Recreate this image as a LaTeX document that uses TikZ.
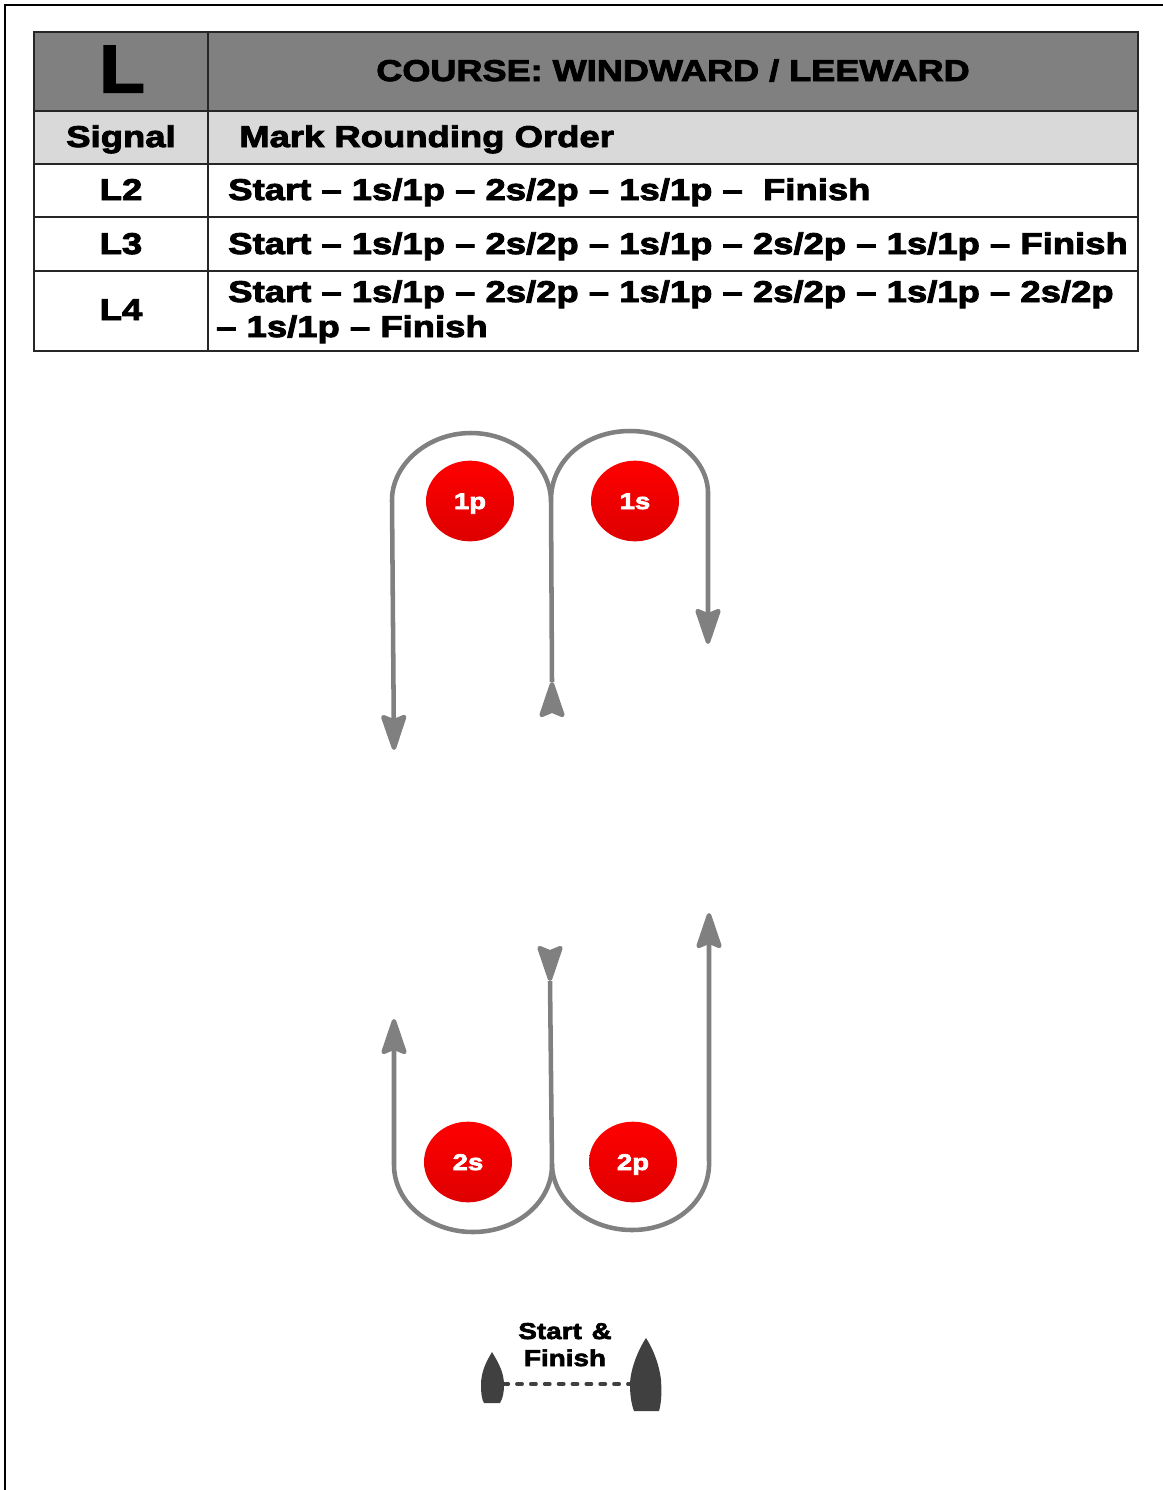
\documentclass[tikz,border=0pt]{standalone}
\usepackage{fontspec}
\setmainfont{Liberation Sans}[BoldFeatures={FakeBold=3,FakeStretch=1.215}]
\usetikzlibrary{shapes.geometric,arrows.meta}
\tikzset{
 x=0.75pt,y=-0.75pt,
 cell/.style={draw=black!85,line width=1pt,anchor=north west,inner sep=0pt,outer sep=0pt},
 hdr/.style={cell,fill=black!50},
 subh/.style={cell,fill=black!15},
 plainc/.style={cell,fill=white},
 txt/.style={anchor=base west,inner sep=0pt,font=\fontsize{22.5}{27}\selectfont\bfseries},
 ctr/.style={txt,anchor=base},
 buoy/.style={ellipse,minimum width=66pt,minimum height=60.5pt,inner sep=0pt,text height=12pt,text depth=0pt,top color=red,bottom color=red!87!black,text=white,font=\fontsize{17}{22}\selectfont\bfseries},
 course/.style={draw=black!50,line width=3.4pt},
 atip/.style={course,-{Stealth[length=31pt,width=20.5pt,inset=4pt,round]}},
 boat/.style={fill=black!75,draw=none},
 sflabel/.style={anchor=base,inner sep=0pt,font=\fontsize{17.2}{20}\selectfont\bfseries},
}
\begin{document}
\begin{tikzpicture}
\useasboundingbox (0,0) rectangle (1163,1490);
\draw[line width=2pt,black] (5,1490) -- (5,5) -- (1163,5);
% table
\node[hdr,minimum width=130.5pt,minimum height=59.25pt] (hl) at (34,32) {};
\node[hdr,minimum width=697.5pt,minimum height=59.25pt] (hr) at (208,32) {};
\node[subh,minimum width=130.5pt,minimum height=39.75pt] (sl) at (34,111) {};
\node[subh,minimum width=697.5pt,minimum height=39.75pt] (sr) at (208,111) {};
\node[plainc,minimum width=130.5pt,minimum height=39.75pt] (al) at (34,164) {};
\node[plainc,minimum width=697.5pt,minimum height=39.75pt] (ar) at (208,164) {};
\node[plainc,minimum width=130.5pt,minimum height=40.5pt] (bl) at (34,217) {};
\node[plainc,minimum width=697.5pt,minimum height=40.5pt] (br) at (208,217) {};
\node[plainc,minimum width=130.5pt,minimum height=60pt] (cl) at (34,271) {};
\node[plainc,minimum width=697.5pt,minimum height=60pt] (cr) at (208,271) {};
\node[ctr,font=\fontsize{50}{60}\selectfont\bfseries] (tL) at (122,92) {\scalebox{.92}[1]{L}};
\node[ctr] (tC) at (673,81) {\scalebox{.99}[1]{COURSE: WINDWARD / LEEWARD}};
\node[ctr] (tS) at (121,147) {Signal};
\node[txt] (tM) at (239,147) {Mark Rounding Order};
\node[ctr] (t2) at (121,200) {L2};
\node[txt] (r2) at (228,200) {Start – 1s/1p – 2s/2p – 1s/1p –\ \ Finish};
\node[ctr] (t3) at (121,254) {L3};
\node[txt] (r3) at (228,254) {Start – 1s/1p – 2s/2p – 1s/1p – 2s/2p – 1s/1p – Finish};
\node[ctr] (t4) at (121,320) {L4};
\node[txt] (r4) at (228,302) {Start – 1s/1p – 2s/2p – 1s/1p – 2s/2p – 1s/1p – 2s/2p};
\node[txt] (r4b) at (216,337) {– 1s/1p – Finish};
% marks
\node[buoy] (m1p) at (470,501) {1p};
\node[buoy] (m1s) at (635,501) {1s};
\node[buoy] (m2s) at (468,1162) {2s};
\node[buoy] (m2p) at (633,1162) {2p};
% course
\coordinate (a1) at (552,718);
\coordinate (a2) at (394,750);
\coordinate (a3) at (552,682);
\coordinate (b1) at (551,500);
\coordinate (b2) at (708,644);
\coordinate (c1) at (552,1165);
\coordinate (c2) at (550,945);
\coordinate (c3) at (394,1019);
\coordinate (c4) at (550,981);
\coordinate (d2) at (709,913);
\draw[course] (a3) -- (b1);
\draw[atip] (b1) .. controls (550,465) and (515,433) .. (471,433) .. controls (427,433) and (392,465) .. (392,500) -- (a2);
\draw[atip] (b1) .. controls (551,460) and (586,431) .. (630,431) .. controls (674,431) and (709,460) .. (708,495) -- (b2);
\draw[atip,shorten <=6pt] (a1) -- (a3);
\draw[course] (c1) -- (c4);
\draw[atip,shorten <=6pt] (c2) -- (c4);
\draw[atip] (c1) .. controls (552,1202) and (517,1232) .. (473,1232) .. controls (429,1232) and (394,1202) .. (394,1165) -- (c3);
\draw[atip] (c1) .. controls (553,1200) and (588,1230) .. (632,1230) .. controls (676,1230) and (711,1200) .. (709,1160) -- (d2);
% start line
\node[sflabel] (sf) at (565,1339) {Start\ \kern1.5pt\&};
\node[sflabel] (sf2) at (565,1366) {Finish};
\coordinate (bl1) at (503,1384);
\coordinate (br1) at (631,1384);
\fill[boat] (492,1352) .. controls (486,1362) and (481,1372) .. (481,1385) .. controls (481,1394) and (482,1400) .. (484,1403) -- (500,1403) .. controls (503,1398) and (504,1392) .. (504,1385) .. controls (504,1372) and (498,1362) .. (492,1352) -- cycle;
\fill[boat] (646,1338) .. controls (638,1350) and (630,1370) .. (630,1385) .. controls (630,1397) and (632,1406) .. (634,1411) -- (659,1411) .. controls (661,1404) and (662,1395) .. (661,1380) .. controls (660,1368) and (654,1350) .. (646,1338) -- cycle;
\draw[draw=black!75,line width=2.6pt,line cap=round,dash pattern=on 4pt off 6.4pt] (bl1) -- (br1);
\end{tikzpicture}
\end{document}
